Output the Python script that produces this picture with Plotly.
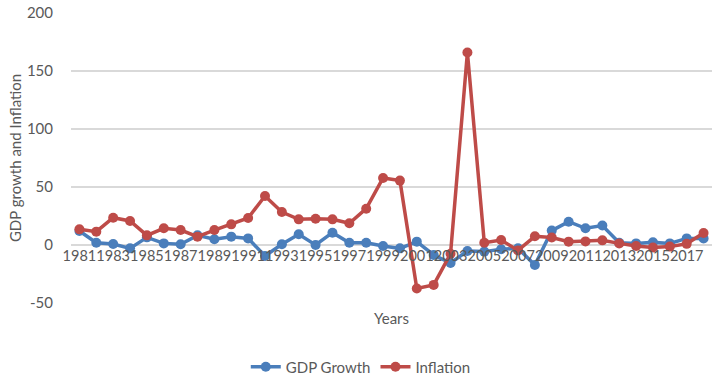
import plotly.graph_objects as go

years = [str(y) for y in range(1981, 2019)]
gdp_growth = [12.1, 2.0, 0.9, -2.9, 6.6, 1.4, 0.6, 8.3, 4.9, 7.2, 5.7, -9.5, 0.6, 9.2, 0.0, 10.6, 2.0, 2.0, -0.9, -2.9,
              2.9, -8.6, -15.5, -5.2, -5.7, -3.7, -2.9, -17.2, 12.4, 20.1, 14.4, 16.8, 2.0, 1.4, 2.3, 1.4, 5.7, 5.7]
inflation = [13.5, 11.5, 23.5, 20.7, 8.3, 14.4, 12.9, 7.2, 12.9, 17.8, 23.3, 42.2, 28.4, 22.1, 22.7, 22.1, 18.7, 31.3, 57.8, 55.5,
             -37.5, -34.4, -7.5, 166.0, 2.0, 4.3, -4.7, 7.5, 6.4, 2.9, 3.1, 4.0, 1.4, -0.9, -2.1, -1.4, 1.0, 10.3]
tick_labels = years[0:37:2]
y_ticks = [-50, 0, 50, 100, 150, 200]
y_tick_text = ["-50", "0", "50", "100", "150", "200"]

BLUE = "#4A7EBB"
RED = "#BE4B48"
GREY = "#595959"
GRID = "#D9D9D9"
FONT = "Lato"

fig = go.Figure()
fig.add_trace(go.Scatter(x=years, y=gdp_growth, name="GDP Growth", mode="lines+markers",
                         line=dict(color=BLUE, width=3.5), marker=dict(color=BLUE, size=10)))
fig.add_trace(go.Scatter(x=years, y=inflation, name="Inflation", mode="lines+markers",
                         line=dict(color=RED, width=3.5), marker=dict(color=RED, size=10)))

fig.update_layout(
    width=713, height=380,
    margin=dict(l=71, r=1, t=13, b=77),
    paper_bgcolor="white", plot_bgcolor="white",
    font=dict(family=FONT, size=15, color=GREY),
    legend=dict(orientation="h", xref="container", yref="container", x=0.506, xanchor="center",
                y=0.034, yanchor="middle", font=dict(size=15, color=GREY), traceorder="normal"),
    xaxis=dict(type="category", range=[-0.5, 37.5], tickmode="array", tickvals=tick_labels,
               ticktext=tick_labels, tickangle=0, showgrid=False, showline=False, zeroline=False,
               anchor="free", position=0.2, ticks="", automargin=False,
               tickfont=dict(size=14.5, color=GREY)),
    yaxis=dict(range=[-50, 200], tickmode="array", tickvals=y_ticks, ticktext=y_tick_text,
               showgrid=True, gridcolor=GRID, gridwidth=1.5,
               zeroline=False, showline=False, ticks="outside", ticklen=14, tickcolor="rgba(0,0,0,0)",
               automargin=False, tickfont=dict(size=15, color=GREY),
               title=dict(text="GDP growth and Inflation", font=dict(size=15, color=GREY), standoff=1)),
    annotations=[dict(text="Years", xref="paper", yref="paper", x=0.5, y=-0.052, xanchor="center",
                      yanchor="middle", showarrow=False, font=dict(size=15, color=GREY))],
)

fig.write_html("out.html", config={"displayModeBar": False},
               post_script="document.body.style.margin='0';")
